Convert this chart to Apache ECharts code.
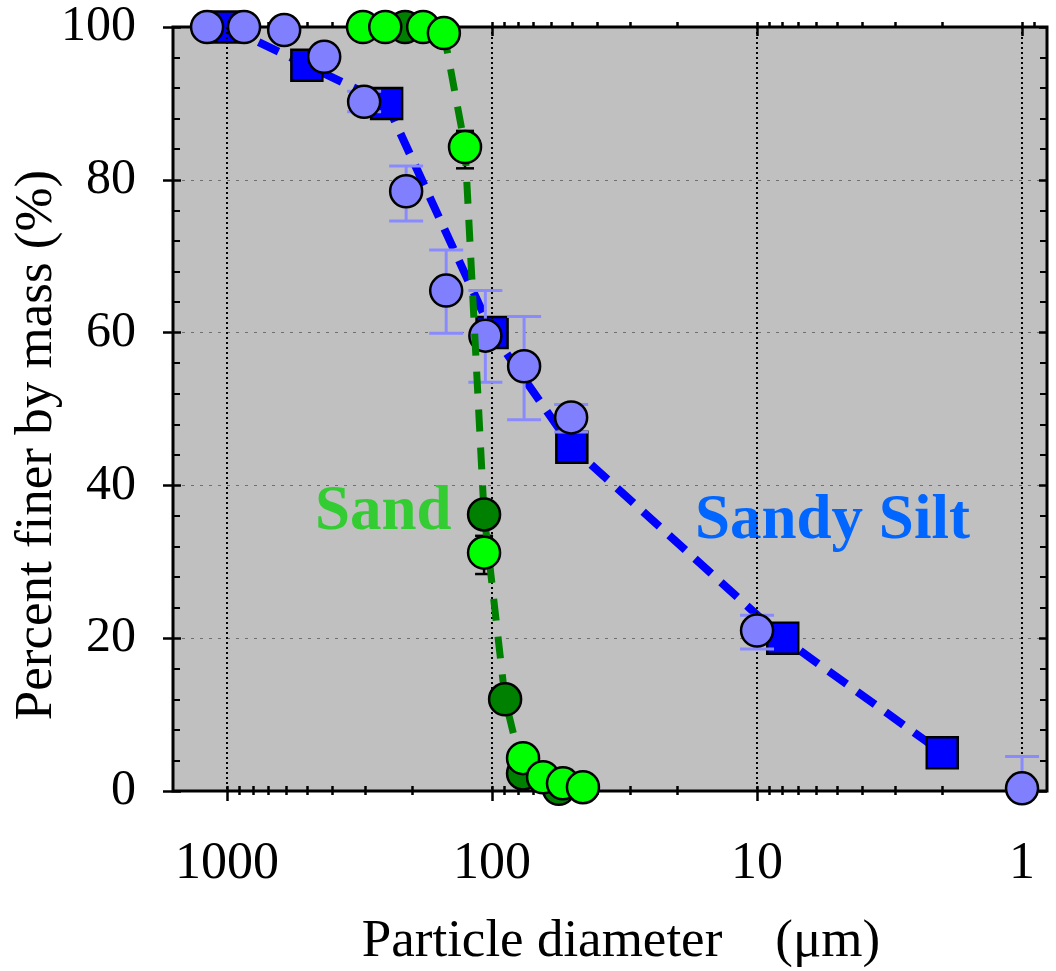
<!DOCTYPE html>
<html>
<head>
<meta charset="utf-8">
<script src="https://cdn.jsdelivr.net/npm/echarts@6/dist/echarts.min.js"></script>
<style>
html, body { margin: 0; padding: 0; background: #fff; }
#main { width: 1056px; height: 971px; }
</style>
</head>
<body>
<div id="main"></div>
<script>
// Sandy silt: sieve results (squares) and laser results (circles)
var siltSieveD = [1000, 500, 250, 100, 50, 8, 2];
var siltSieveP = [100, 95, 90, 60, 45, 20, 5];
var siltD = [1190, 863, 609, 430, 304, 211, 149, 106, 75.7, 50.3, 10, 1];
var siltP = [100, 100, 99.6, 96.1, 90.2, 78.5, 65.5, 59.6, 55.6, 48.9, 21.0, 0.35];
var siltErrD = [304, 211, 149, 106, 75.7, 50.3, 10, 1];
var siltErrLo = [88.9, 74.6, 59.9, 53.5, 48.6, 47.0, 18.6, 0];
var siltErrHi = [91.6, 81.8, 70.8, 65.5, 62.1, 50.6, 23.0, 4.5];

// Sand: two samples (light and dark green) and the fitted curve
var sandD = [307, 253, 182, 152, 126.5, 107.2, 76.4, 64.2, 54, 45.4];
var sandP = [100, 100, 100, 99.2, 84.3, 31.2, 4.3, 1.8, 1.0, 0.5];
var sand2D = [213, 107.2, 89.3, 76.4, 56];
var sand2P = [100, 36.2, 12.0, 2.3, 0.3];
var sandLineD = [213, 152, 126.5, 107.2, 89.3, 76.4, 56];
var sandLineP = [100, 99.2, 84.3, 36.2, 12.0, 2.3, 0.3];
var sandErrD = [126.5, 107.2];
var sandErrLo = [81.5, 28.4];
var sandErrHi = [86.4, 33.4];

// axis ticks
var xMajor = [1, 10, 100, 1000];
var xMinor = [0.9, 2, 3, 4, 5, 6, 7, 8, 9, 20, 30, 40, 50, 60, 70, 80, 90,
  200, 300, 400, 500, 600, 700, 800, 900];
var xMin = 0.805, xMax = 1600;

var serif = "'Liberation Serif', 'Times New Roman', serif";
var tickLine = { color: '#000', width: 2.5 };

var chartDom = document.getElementById('main');
var myChart = echarts.init(chartDom);
var option;

function pairs(d, p) {
  return d.map(function (v, i) { return [v, p[i]]; });
}

function logAxis(extra) {
  return Object.assign({
    type: 'log', logBase: 10, min: xMin, max: xMax, inverse: true, gridIndex: 0,
    axisLine: { show: false },
    axisLabel: { show: false },
    axisTick: { show: false },
    splitLine: { show: false }
  }, extra);
}

function yAxis(extra) {
  return Object.assign({
    type: 'value', min: 0, max: 100, interval: 20, gridIndex: 0,
    axisLine: { show: false },
    axisLabel: { show: false },
    axisTick: { show: false },
    splitLine: { show: false }
  }, extra);
}

function dots(d, p, fill, z) {
  return {
    type: 'scatter', z: z, symbol: 'circle', symbolSize: 32, clip: false, silent: true,
    itemStyle: { color: fill, borderColor: '#000', borderWidth: 2.5, opacity: 1 },
    data: pairs(d, p)
  };
}

function errorBars(d, lo, hi, half, color, width, z) {
  return {
    type: 'custom', z: z, silent: true,
    data: d.map(function (v, i) { return [v, lo[i], hi[i]]; }),
    encode: { x: 0, y: [1, 2] },
    renderItem: function (params, api) {
      var top = api.coord([api.value(0), api.value(2)]);
      var bot = api.coord([api.value(0), api.value(1)]);
      var st = { stroke: color, lineWidth: width };
      return {
        type: 'group',
        children: [
          { type: 'line', shape: { x1: top[0], y1: top[1], x2: bot[0], y2: bot[1] }, style: st },
          { type: 'line', shape: { x1: top[0] - half, y1: top[1], x2: top[0] + half, y2: top[1] }, style: st },
          { type: 'line', shape: { x1: bot[0] - half, y1: bot[1], x2: bot[0] + half, y2: bot[1] }, style: st }
        ]
      };
    }
  };
}

option = {
  animation: false,
  backgroundColor: '#fff',
  grid: {
    left: 173, top: 27, width: 874, height: 764,
    outerBoundsMode: 'none', containLabel: false,
    show: true, backgroundColor: '#c0c0c0', borderColor: '#000', borderWidth: 3
  },
  xAxis: [
    logAxis({
      position: 'bottom',
      name: 'Particle diameter    (\u03bcm)',
      nameLocation: 'middle', nameGap: 125, nameMoveOverlap: false,
      nameTextStyle: { fontFamily: serif, fontSize: 53, color: '#000', padding: [0, 0, 0, 22] },
      axisLabel: {
        show: true, customValues: xMajor, margin: 47,
        fontFamily: serif, fontSize: 52, color: '#000',
        formatter: function (v) { return String(Math.round(v)); }
      },
      axisTick: { show: true, customValues: xMajor, inside: false, length: 10, lineStyle: tickLine }
    }),
    logAxis({
      position: 'bottom',
      axisTick: { show: true, customValues: xMajor.concat(xMinor), inside: true, length: 5, lineStyle: tickLine }
    }),
    logAxis({
      position: 'bottom',
      axisTick: { show: true, customValues: xMinor, inside: false, length: 4, lineStyle: tickLine }
    }),
    logAxis({
      position: 'top',
      axisTick: { show: true, customValues: xMajor.concat(xMinor), inside: false, length: 5, lineStyle: tickLine }
    }),
    logAxis({
      position: 'top',
      axisTick: { show: true, customValues: xMajor, inside: true, length: 9, lineStyle: tickLine }
    }),
    logAxis({
      position: 'bottom', z: 3,
      axisTick: { show: false, customValues: xMajor },
      splitLine: { show: true, lineStyle: { color: '#000', width: 2, type: [2, 3] } }
    })
  ],
  yAxis: [
    yAxis({
      position: 'left',
      name: 'Percent finer by mass (%)',
      nameLocation: 'middle', nameGap: 109, nameMoveOverlap: false,
      nameTextStyle: { fontFamily: serif, fontSize: 53, color: '#000', padding: [0, 72, 0, 0] },
      axisLabel: { show: true, margin: 37, fontFamily: serif, fontSize: 50, color: '#000' },
      axisTick: { show: true, inside: false, length: 10, lineStyle: tickLine },
      splitLine: {
        show: true, showMinLine: false, showMaxLine: false,
        lineStyle: { color: '#707070', width: 1, type: [3, 6] }
      }
    }),
    yAxis({
      position: 'left',
      axisTick: { show: true, inside: true, length: 8, lineStyle: tickLine },
      minorTick: { show: true, splitNumber: 5, length: 7, lineStyle: { color: '#000', width: 2 } }
    }),
    yAxis({
      position: 'right',
      axisTick: { show: true, inside: true, length: 8, lineStyle: tickLine },
      minorTick: { show: true, splitNumber: 5, length: 7, lineStyle: { color: '#000', width: 2 } }
    })
  ],
  graphic: {
    elements: [
      {
        type: 'text', x: 315, y: 513, z: 2, silent: true,
        style: { text: 'Sand', font: 'bold 63px ' + serif, fill: '#33cc33', align: 'left', verticalAlign: 'middle' }
      },
      {
        type: 'text', x: 695, y: 522, z: 2, silent: true,
        style: { text: 'Sandy Silt', font: 'bold 63px ' + serif, fill: '#0066ff', align: 'left', verticalAlign: 'middle' }
      }
    ]
  },
  series: [
    {
      name: 'Sandy Silt sieve',
      type: 'line', z: 2, clip: false, silent: true,
      symbol: 'rect', symbolSize: 31, showAllSymbol: true,
      itemStyle: { color: '#0000ff', borderColor: '#000', borderWidth: 2.5 },
      lineStyle: { color: '#0000ff', width: 8, type: [22, 13] },
      data: pairs(siltSieveD, siltSieveP)
    },
    errorBars(siltErrD, siltErrLo, siltErrHi, 17, '#8a8aff', 3, 3),
    dots(siltD, siltP, '#8080ff', 4),
    {
      name: 'Sand curve',
      type: 'line', z: 5, clip: false, silent: true,
      symbol: 'none',
      lineStyle: { color: '#008000', width: 7, type: [22, 16] },
      data: pairs(sandLineD, sandLineP)
    },
    errorBars(sandErrD, sandErrLo, sandErrHi, 9, '#000', 2.5, 5),
    dots(sand2D, sand2P, '#008000', 6),
    dots(sandD, sandP, '#00ff00', 7)
  ]
};

option && myChart.setOption(option);
</script>
</body>
</html>
